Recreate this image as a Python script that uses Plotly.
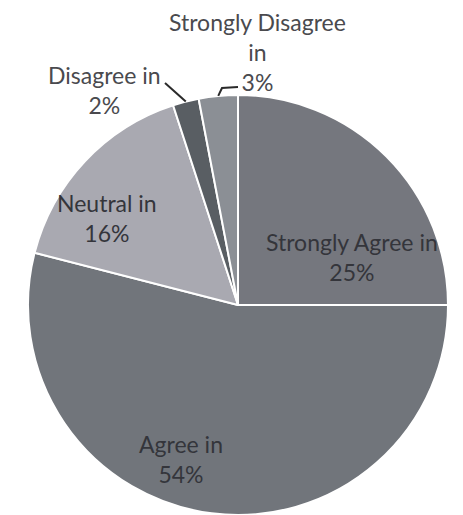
import math
import plotly.graph_objects as go

# ---- data ----
categories = ["Strongly Agree", "Agree", "Neutral", "Disagree", "Strongly Disagree"]
values = [25, 54, 16, 2, 3]
label_texts = ["Strongly Agree in<br>25%", "Agree in<br>54%", "Neutral in<br>16%",
               "Disagree in<br>2%", "Strongly Disagree<br>in<br>3%"]
colors = ["#75777e", "#71757b", "#a9a9b1", "#595e63", "#8b8f95"]

OFF = 8  # page body margin
W, H = 463 - OFF, 515 - OFF
cx, cy, r = 238 - OFF, 305 - OFF, 210  # pixels inside figure (y from top)

fig = go.Figure(go.Pie(
    labels=categories, values=values, sort=False, direction="clockwise", rotation=0,
    marker=dict(colors=colors, line=dict(color="white", width=2)),
    textinfo="none", hoverinfo="label+percent", showlegend=False,
    domain=dict(x=[(cx - r) / W, (cx + r) / W], y=[max(0, (H - cy - r) / H), min(1, (H - cy + r) / H)]),
))

# label placement (page-pixel centers of text blocks)
label_pos = [(352, 257), (181, 459), (107, 218), (104, 90), (257, 52)]
inside = [True, True, True, False, False]
font_family = "Lato, 'Open Sans', sans-serif"
for txt, (px, py), ins in zip(label_texts, label_pos, inside):
    fig.add_annotation(x=(px - OFF) / W, y=1 - (py - OFF) / H, xref="paper", yref="paper",
                       text=txt, showarrow=False, xanchor="center", yanchor="middle",
                       font=dict(family=font_family, size=23,
                                 color="#34353b" if ins else "#4a4a4e"))

# leader lines computed from slice mid-angles
def edge_point(idx):
    total = sum(values)
    cum = sum(values[:idx]) + values[idx] / 2
    th = 2 * math.pi * cum / total
    return cx + r * math.sin(th), cy - r * math.cos(th)

def px2paper(x, y):
    return x / W, 1 - y / H

ex, ey = edge_point(3)
x0, y0 = px2paper(ex, ey)
x1, y1 = px2paper(165 - OFF, 83 - OFF)
fig.add_shape(type="line", xref="paper", yref="paper", x0=x0, y0=y0, x1=x1, y1=y1,
              line=dict(color="#2a2a2a", width=2))
ex, ey = edge_point(4)
a = px2paper(ex, ey)
b = px2paper(222 - OFF, 88 - OFF)
c = px2paper(238 - OFF, 87 - OFF)
fig.add_shape(type="path", xref="paper", yref="paper",
              path=f"M {a[0]} {a[1]} L {b[0]} {b[1]} L {c[0]} {c[1]}",
              line=dict(color="#2a2a2a", width=2))

fig.update_layout(width=W, height=H, margin=dict(l=0, r=0, t=0, b=0),
                  paper_bgcolor="white", plot_bgcolor="white")
fig.write_html("out.html")
